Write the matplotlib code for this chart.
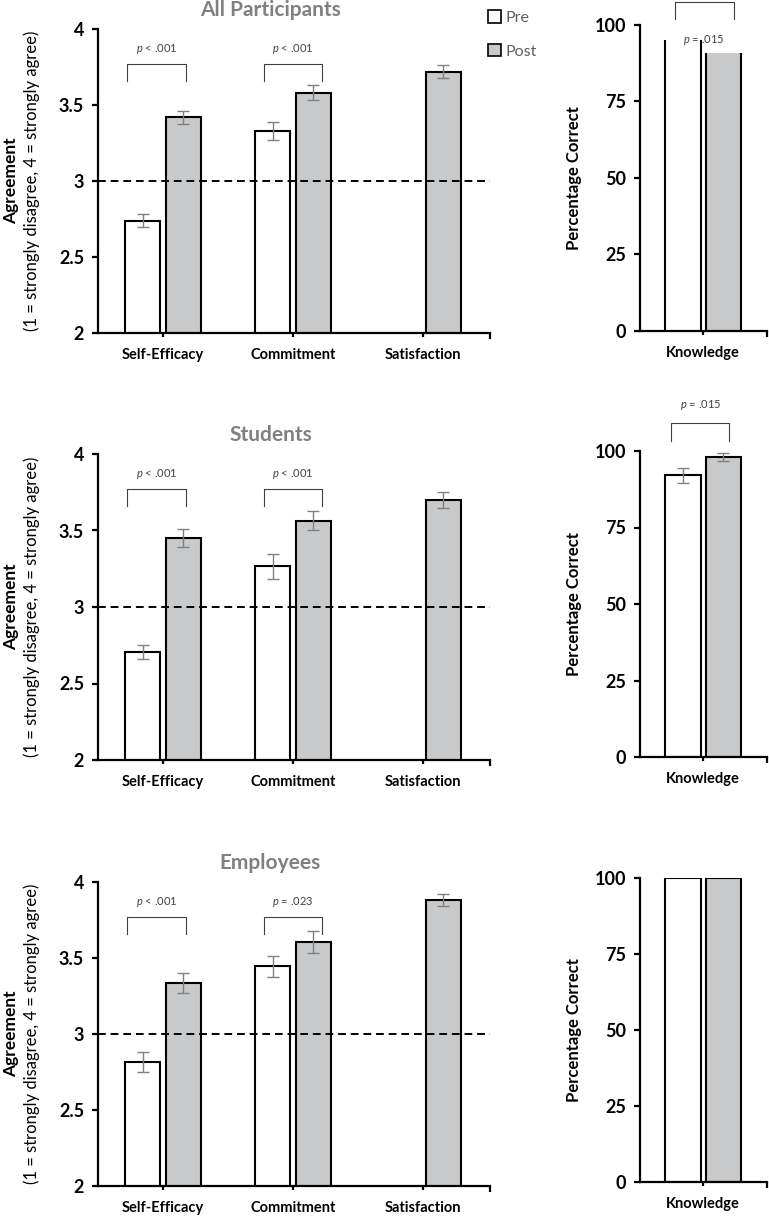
import matplotlib.pyplot as plt
from matplotlib.patches import Patch

plt.rcParams['font.family'] = ['Lato', 'DejaVu Sans']
plt.rcParams['mathtext.fontset'] = 'custom'
plt.rcParams['mathtext.it'] = 'Lato:italic'
plt.rcParams['mathtext.rm'] = 'Lato'

# ---- data ----
groups = ['Self-Efficacy', 'Commitment', 'Satisfaction']
titles = ['All Participants', 'Students', 'Employees']

pre_all = [2.74, 3.33]
pre_all_err = [0.04, 0.06]
post_all = [3.42, 3.58, 3.72]
post_all_err = [0.042, 0.05, 0.04]
p_all = ['< .001', '< .001']

pre_stu = [2.705, 3.265]
pre_stu_err = [0.045, 0.08]
post_stu = [3.45, 3.565, 3.70]
post_stu_err = [0.06, 0.065, 0.05]
p_stu = ['< .001', '< .001']

pre_emp = [2.815, 3.445]
pre_emp_err = [0.065, 0.07]
post_emp = [3.335, 3.605, 3.88]
post_emp_err = [0.065, 0.07, 0.04]
p_emp = ['< .001', '= .023']

know_all = [95, 91]
know_stu = [92, 98]
know_stu_err = [2.3, 1.2]
know_emp = [100, 100]
p_know = ['= .015', '= .015', None]

W, H = 769, 1217
GREY = '#c8c9ca'
EGREY = '#808080'
BW, OFF = 0.27, 0.155

fig = plt.figure(figsize=(W / 100, H / 100), dpi=100)


def add_ax(x0, y0, x1, y1):
    return fig.add_axes([x0 / W, 1 - y1 / H, (x1 - x0) / W, (y1 - y0) / H])


def style(ax):
    for s in ['top', 'right']:
        ax.spines[s].set_visible(False)
    for s in ['left', 'bottom']:
        ax.spines[s].set_linewidth(1.6)
    ax.tick_params(axis='y', direction='out', length=4, width=1.6, labelsize=13, pad=6)
    ax.tick_params(axis='x', direction='out', length=3, width=1.6, labelsize=10.5, pad=8)
    for lab in ax.get_xticklabels() + ax.get_yticklabels():
        lab.set_fontweight('bold')


def bracket(ax, x0, x1, ytop, drop, label):
    ax.plot([x0, x0, x1, x1], [ytop - drop, ytop, ytop, ytop - drop],
            color='#404040', lw=0.8, clip_on=False)
    ax.text((x0 + x1) / 2, ytop + drop * 0.9, '$p$ ' + label, ha='center', va='center',
            fontsize=8, color='#404040', clip_on=False)


left_px = [(29, 333), (454, 760), (882, 1186)]
right_px = [(25, 331), (451, 757), (878, 1182)]
pres = [(pre_all, pre_all_err), (pre_stu, pre_stu_err), (pre_emp, pre_emp_err)]
posts = [(post_all, post_all_err), (post_stu, post_stu_err), (post_emp, post_emp_err)]
pvals = [p_all, p_stu, p_emp]
knows = [(know_all, None), (know_stu, know_stu_err), (know_emp, None)]
brk_off = [(-0.28, 0.18), (-0.22, 0.22)]

for i in range(3):
    y0, y1 = left_px[i]
    ax = add_ax(98, y0, 490, y1)
    pre, pre_e = pres[i]
    post, post_e = posts[i]
    xp = [k - OFF for k in range(len(pre))]
    xq = [k + OFF for k in range(len(post))]
    ax.bar(xp, pre, BW, color='white', edgecolor='black', lw=1.5, zorder=2)
    ax.bar(xq, post, BW, color=GREY, edgecolor='black', lw=1.5, zorder=2)
    ax.errorbar(xp, pre, yerr=pre_e, fmt='none', ecolor=EGREY, elinewidth=1,
                capsize=4, capthick=1, zorder=4)
    ax.errorbar(xq, post, yerr=post_e, fmt='none', ecolor=EGREY, elinewidth=1,
                capsize=4, capthick=1, zorder=4)
    ax.axhline(3, color='black', lw=1.4, ls=(0, (4, 2.5)), zorder=3)
    for k, p in enumerate(pvals[i]):
        a, b = brk_off[k]
        bracket(ax, k + a, k + b, 3.77, 0.11, p)
    ax.set_ylim(2, 4)
    ax.set_xlim(-0.5, 2.515)
    ax.set_yticks([2, 2.5, 3, 3.5, 4])
    ax.set_yticklabels(['2', '2.5', '3', '3.5', '4'])
    ax.set_xticks(range(len(groups)))
    ax.set_xticklabels(groups)
    ax.set_xticks([2.515], minor=True)
    ax.tick_params(axis='x', which='minor', length=4, width=1.6)
    style(ax)
    ax.text(0.44, 1 + 19 / (y1 - y0), titles[i], transform=ax.transAxes, ha='center',
            va='center', fontsize=15, fontweight='bold', color=EGREY)
    yc = 1 - (y0 + y1) / 2 / H
    fig.text(11 / W, yc, 'Agreement', rotation=90, ha='center', va='center',
             fontsize=12.5, fontweight='bold')
    fig.text(32 / W, yc, '(1 = strongly disagree, 4 = strongly agree)', rotation=90,
             ha='center', va='center', fontsize=12)

    # knowledge panel
    r0, r1 = right_px[i]
    kx = add_ax(640, r0, 767, r1)
    vals, errs = knows[i]
    kpos = [-OFF, OFF]
    if i == 0:
        bars = kx.bar(kpos, vals, BW, color=['white', GREY], edgecolor='none', zorder=2)
        for b in bars:
            kx.vlines([b.get_x(), b.get_x() + b.get_width()], 0, b.get_height(),
                      color='black', lw=1.5, zorder=3)
    else:
        kx.bar(kpos, vals, BW, color=['white', GREY], edgecolor='black', lw=1.5, zorder=2)
    if errs is not None:
        kx.errorbar(kpos, vals, yerr=errs, fmt='none', ecolor=EGREY, elinewidth=1,
                    capsize=4, capthick=1, zorder=4)
    if i == 0:
        kx.plot([-0.22, -0.22, 0.24, 0.24], [102, 107.5, 107.5, 102], color='#404040',
                lw=0.8, clip_on=False)
        kx.text(0, 95, '$p$ ' + p_know[0], ha='center', va='center', fontsize=8,
                color='#404040', zorder=5)
    elif p_know[i]:
        kx.plot([-0.25, -0.25, 0.2, 0.2], [103.3, 109.3, 109.3, 103.3], color='#404040',
                lw=0.8, clip_on=False)
        kx.text(-0.02, 115, '$p$ ' + p_know[i], ha='center', va='center', fontsize=8,
                color='#404040', clip_on=False)
    kx.set_ylim(0, 100)
    kx.set_xlim(-0.485, 0.49)
    kx.set_yticks([0, 25, 50, 75, 100])
    kx.set_xticks([0])
    kx.set_xticklabels(['Knowledge'])
    kx.set_xticks([0.49], minor=True)
    kx.tick_params(axis='x', which='minor', length=4, width=1.6)
    style(kx)
    fig.text(574 / W, 1 - (r0 + r1) / 2 / H, 'Percentage Correct', rotation=90,
             ha='center', va='center', fontsize=12, fontweight='bold')

handles = [Patch(facecolor='white', edgecolor='black', lw=1.2),
           Patch(facecolor=GREY, edgecolor='black', lw=1.2)]
leg = fig.legend(handles, ['Pre', 'Post'], loc='upper left', bbox_to_anchor=(474 / W, 1 + 4 / H),
                 frameon=False, handlelength=0.8, handleheight=0.8, handletextpad=0.3,
                 labelspacing=1.2, fontsize=11.5)
for t in leg.get_texts():
    t.set_color('#606060')

fig.savefig('out.png', dpi=100)
